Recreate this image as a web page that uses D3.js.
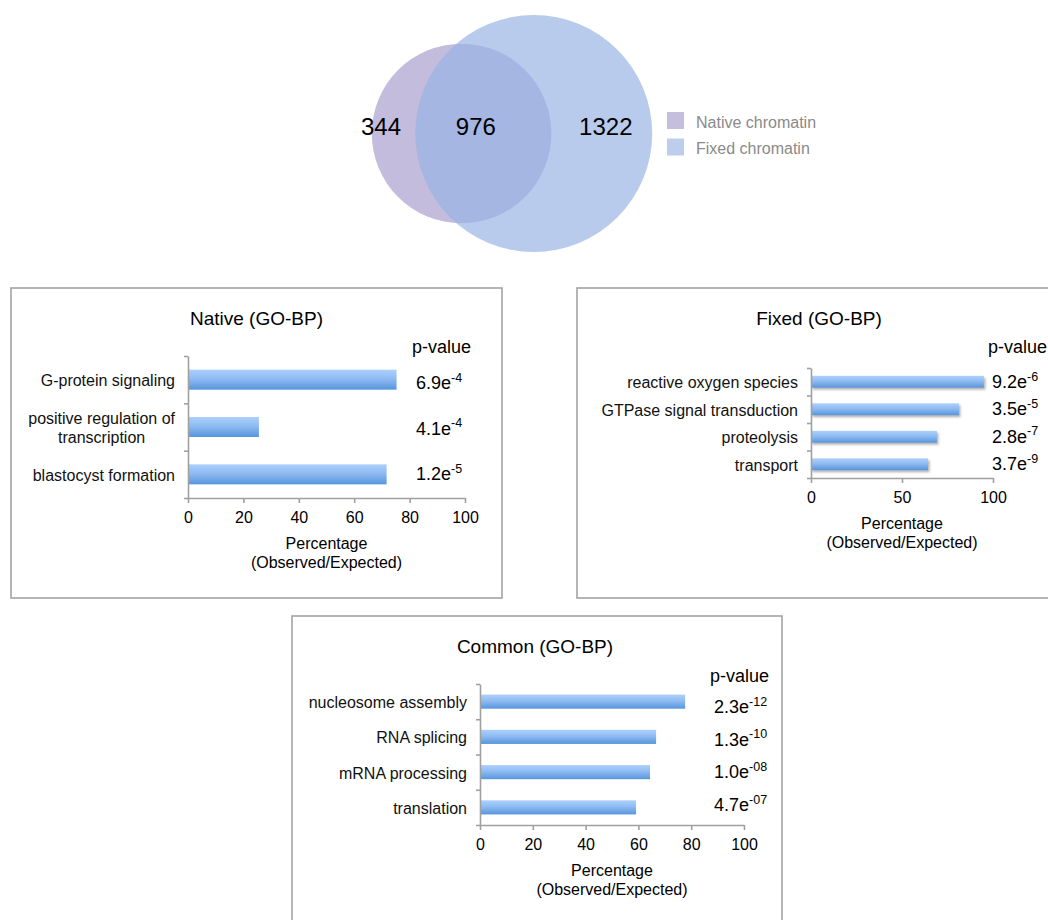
<!DOCTYPE html>
<html>
<head>
<meta charset="utf-8">
<script src="https://cdn.jsdelivr.net/npm/d3@7"></script>
<style>
  html, body { margin: 0; padding: 0; background: #fff; }
  svg { display: block; font-family: "Liberation Sans", Arial, Helvetica, sans-serif; }
</style>
</head>
<body>
<svg id="fig" width="1048" height="920"></svg>
<script>
// ---- Venn: peak overlap between native and fixed chromatin ----
const vennSets = ["Native chromatin", "Fixed chromatin"];
const vennCounts = [344, 976, 1322];          // native only, shared, fixed only

// ---- GO biological process enrichment ----
const nativeTerms = ["G-protein signaling", "positive regulation of\ntranscription", "blastocyst formation"];
const nativePct   = [75.3, 25.6, 71.7];
const nativeP     = ["6.9e-4", "4.1e-4", "1.2e-5"];
const nativeTicks = [0, 20, 40, 60, 80, 100];

const fixedTerms = ["reactive oxygen species", "GTPase signal transduction", "proteolysis", "transport"];
const fixedPct   = [95.0, 81.3, 69.2, 64.3];
const fixedP     = ["9.2e-6", "3.5e-5", "2.8e-7", "3.7e-9"];
const fixedTicks = [0, 50, 100];

const commonTerms = ["nucleosome assembly", "RNA splicing", "mRNA processing", "translation"];
const commonPct   = [77.7, 66.7, 64.4, 59.1];
const commonP     = ["2.3e-12", "1.3e-10", "1.0e-08", "4.7e-07"];
const commonTicks = [0, 20, 40, 60, 80, 100];

const svg = d3.select("#fig");
const defs = svg.append("defs");

const grad = defs.append("linearGradient")
  .attr("id", "barFill").attr("x1", 0).attr("y1", 0).attr("x2", 0).attr("y2", 1);
grad.append("stop").attr("offset", "0%").attr("stop-color", "#acd0fc");
grad.append("stop").attr("offset", "45%").attr("stop-color", "#8fbbf2");
grad.append("stop").attr("offset", "100%").attr("stop-color", "#5795dc");

const shadow = defs.append("filter").attr("id", "barShadow")
  .attr("x", "-5%").attr("y", "-30%").attr("width", "115%").attr("height", "190%");
shadow.append("feDropShadow")
  .attr("dx", 1.5).attr("dy", 2).attr("stdDeviation", 1.1)
  .attr("flood-color", "#555").attr("flood-opacity", 0.45);

// ---------- Venn diagram (area proportional) ----------
(function drawVenn() {
  const [aOnly, both, bOnly] = vennCounts;
  const totA = aOnly + both, totB = both + bOnly;
  const rScale = d3.scaleSqrt().domain([0, Math.max(totA, totB)]).range([0, 118.5]);
  const r1 = rScale(totA), r2 = rScale(totB);

  // lens area of two circles at centre distance d
  function lens(d) {
    if (d >= r1 + r2) return 0;
    if (d <= Math.abs(r2 - r1)) return Math.PI * Math.min(r1, r2) ** 2;
    const a1 = Math.acos((d * d + r1 * r1 - r2 * r2) / (2 * d * r1));
    const a2 = Math.acos((d * d + r2 * r2 - r1 * r1) / (2 * d * r2));
    const k = Math.sqrt((-d + r1 + r2) * (d + r1 - r2) * (d - r1 + r2) * (d + r1 + r2));
    return r1 * r1 * a1 + r2 * r2 * a2 - 0.5 * k;
  }
  const target = Math.PI * r1 * r1 * both / totA;
  let lo = Math.abs(r2 - r1), hi = r1 + r2;
  for (let i = 0; i < 60; i++) {
    const mid = (lo + hi) / 2;
    if (lens(mid) > target) lo = mid; else hi = mid;
  }
  const d = (lo + hi) / 2;

  const midX = 512, cy = 133.5;
  const cx1 = midX - (r1 + d + r2) / 2 + r1;
  const cx2 = cx1 + d;

  const g = svg.append("g");
  g.append("circle").attr("cx", cx1).attr("cy", cy).attr("r", r1).attr("fill", "#c3bcdc");
  g.append("circle").attr("cx", cx2).attr("cy", cy).attr("r", r2)
    .attr("fill", "rgb(154,180,229)").attr("fill-opacity", 0.69);

  const regionX = [
    (cx1 - r1 + cx2 - r2) / 2 - 12.5,
    (cx2 - r2 + cx1 + r1) / 2 - 7.5,
    (cx1 + r1 + cx2 + r2) / 2 + 4
  ];
  g.selectAll("text.count").data(vennCounts).join("text")
    .attr("class", "count")
    .attr("x", (v, i) => regionX[i]).attr("y", cy + 1)
    .attr("text-anchor", "middle").attr("font-size", 24).attr("fill", "#000")
    .text(v => v);

  const legColors = ["#c5bedd", "#bccdee"];
  const leg = g.selectAll("g.leg").data(vennSets).join("g")
    .attr("class", "leg")
    .attr("transform", (s, i) => `translate(667,${112 + i * 26.5})`);
  leg.append("rect").attr("width", 17).attr("height", 17).attr("fill", (s, i) => legColors[i]);
  leg.append("text").attr("x", 29).attr("y", 15.5)
    .attr("font-size", 16).attr("fill", "#8a8a8a").text(s => s);
})();

// ---------- enrichment panels ----------
function drawPanel(cfg) {
  const g = svg.append("g");
  const b = cfg.box;
  g.append("rect").attr("x", b.x).attr("y", b.y).attr("width", b.w).attr("height", b.h)
    .attr("fill", "#fff").attr("stroke", "#a3a3a3").attr("stroke-width", 1.6);

  g.append("text").attr("x", b.x + b.w / 2 + (cfg.titleDx || 0)).attr("y", b.y + 37)
    .attr("text-anchor", "middle").attr("font-size", 19).attr("fill", "#000").text(cfg.title);

  const x = d3.scaleLinear().domain([0, 100]).range([cfg.x0, cfg.x1]);
  const y = d3.scaleBand().domain(cfg.terms).range([cfg.y0, cfg.y1])
    .paddingInner(cfg.pad).paddingOuter(cfg.pad / 2);

  // bars
  g.append("g").attr("filter", cfg.shadow ? "url(#barShadow)" : null)
    .selectAll("rect").data(cfg.terms).join("rect")
    .attr("x", x(0)).attr("y", t => y(t))
    .attr("width", (t, i) => x(cfg.pct[i]) - x(0))
    .attr("height", y.bandwidth())
    .attr("fill", "url(#barFill)");

  // category axis: ticks between bands
  const n = cfg.terms.length;
  const yIdx = d3.scaleLinear().domain([0, n]).range([cfg.y1, cfg.y0]);
  const yAxis = g.append("g").attr("transform", `translate(${cfg.x0},0)`)
    .call(d3.axisLeft(yIdx).tickValues(d3.range(n + 1)).tickFormat("").tickSize(4).tickSizeOuter(0));

  const xAxis = g.append("g").attr("transform", `translate(0,${cfg.y1})`)
    .call(d3.axisBottom(x).tickValues(cfg.ticks).tickSize(5).tickSizeOuter(0).tickPadding(8.5));

  [yAxis, xAxis].forEach(a => {
    a.selectAll("path, line").attr("stroke", "#a0a0a0").attr("stroke-width", 1.6);
  });
  xAxis.selectAll("text").attr("font-size", 16).attr("fill", "#000")
    .attr("font-family", "'Liberation Sans', Arial, Helvetica, sans-serif");

  // category labels (multi-line blocks right aligned, lines centred)
  const labelX = cfg.x0 - 13;
  const lineH = 19;
  cfg.terms.forEach(t => {
    const lines = t.split("\n");
    const cy = y(t) + y.bandwidth() / 2;
    const texts = lines.map((ln, j) =>
      g.append("text")
        .attr("y", cy + 6.5 - (lines.length - 1) * lineH / 2 + j * lineH)
        .attr("font-size", 16).attr("fill", "#111").attr("text-anchor", "middle").text(ln));
    const maxW = d3.max(texts, s => s.node().getComputedTextLength());
    texts.forEach(s => s.attr("x", labelX - maxW / 2));
  });

  // p-value column
  g.append("text").attr("x", cfg.pX - 4).attr("y", cfg.pHeadY)
    .attr("font-size", 18).attr("fill", "#000").text("p-value");
  const py = d3.scalePoint().domain(cfg.terms).range(cfg.pYRange);
  cfg.terms.forEach((t, i) => {
    const [mant, ex] = cfg.pvals[i].split("e");
    const tx = g.append("text").attr("x", cfg.pX).attr("y", py(t))
      .attr("font-size", 18).attr("fill", "#000");
    tx.append("tspan").text(mant + "e");
    tx.append("tspan").attr("dy", -7.5).attr("font-size", 12.5).text(ex);
  });

  // axis title
  const xt = g.append("text").attr("text-anchor", "middle").attr("font-size", 16).attr("fill", "#000");
  xt.append("tspan").attr("x", (cfg.x0 + cfg.x1) / 2).attr("y", cfg.y1 + 51).text("Percentage");
  xt.append("tspan").attr("x", (cfg.x0 + cfg.x1) / 2).attr("y", cfg.y1 + 70).text("(Observed/Expected)");
}

drawPanel({
  title: "Native (GO-BP)", box: { x: 11, y: 288, w: 491, h: 310 },
  terms: nativeTerms, pct: nativePct, pvals: nativeP, ticks: nativeTicks,
  x0: 188, x1: 465, y0: 356, y1: 498, pad: 0.577,
  pX: 416, pHeadY: 353, pYRange: [389, 480]
});

drawPanel({
  title: "Fixed (GO-BP)", box: { x: 577, y: 288, w: 484, h: 310 },
  terms: fixedTerms, pct: fixedPct, pvals: fixedP, ticks: fixedTicks,
  x0: 811, x1: 993, y0: 368, y1: 478, pad: 0.57, shadow: true,
  pX: 992, pHeadY: 353, pYRange: [388, 470]
});

drawPanel({
  title: "Common (GO-BP)", box: { x: 292, y: 616, w: 490, h: 310 }, titleDx: -2,
  terms: commonTerms, pct: commonPct, pvals: commonP, ticks: commonTicks,
  x0: 480, x1: 744, y0: 684, y1: 825, pad: 0.6,
  pX: 714, pHeadY: 682, pYRange: [713, 811]
});
</script>
</body>
</html>
